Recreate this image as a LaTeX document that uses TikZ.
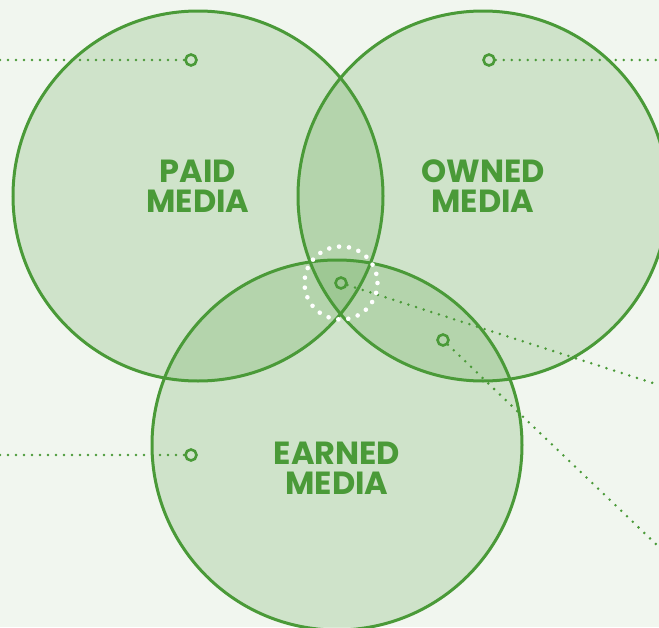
\documentclass[tikz,border=0pt]{standalone}
\usepackage{fontspec}
\setmainfont{Poppins}
\usepackage{tikz}
\usetikzlibrary{positioning}

\definecolor{vgreen}{RGB}{74,154,56}
\definecolor{paper}{RGB}{241,246,239}

\begin{document}
\begin{tikzpicture}[
    x=1pt, y=-1pt,
    venn/.style={circle, fill=vgreen, fill opacity=0.2, minimum size=370pt, inner sep=0pt},
    ring/.style={draw=vgreen, line width=3pt},
    label/.style={text=vgreen, font=\fontsize{32}{30}\selectfont\bfseries, align=center},
    pin/.style={circle, draw=vgreen, line width=2.6pt, minimum size=11pt, inner sep=0pt},
    leader/.style={draw=vgreen, line width=2.8pt, line cap=round, dash pattern=on 0pt off 8pt},
    halo/.style={draw=white, line width=4.6pt, line cap=round, dash pattern=on 0pt off 10pt}
]
% Background
\useasboundingbox[fill=paper] (0,0) rectangle (659,627);
% Circles
\node[venn] (paid) at (198,196) {};
\node[venn] (owned) at (483,196) {};
\node[venn] (earned) at (337,445) {};
\foreach \c in {paid,owned,earned}
    \draw[ring] (\c) circle (185);
% Labels
\node[label] (paidtext) at (198,186) {PAID\\MEDIA};
\node[label] (ownedtext) at (483,186) {OWNED\\MEDIA};
\node[label] (earnedtext) at (337,468) {EARNED\\MEDIA};
% Markers
\node[pin] (paidpin) at (191,60) {};
\node[pin] (ownedpin) at (489,60) {};
\node[pin] (earnedpin) at (191,455) {};
\node[pin] (corepin) at (341,283) {};
\node[pin] (sharedpin) at (443,340) {};
% Loose ends of the leaders
\coordinate (paidend) at (0,60);
\coordinate (ownedend) at (659,60);
\coordinate (earnedend) at (0,455);
\coordinate (coreend) at (659,385);
\coordinate (sharedend) at (659,547);
% Leaders
\draw[leader] (paidend) -- (paidpin);
\draw[leader] (ownedpin) -- (ownedend);
\draw[leader] (earnedend) -- (earnedpin);
\draw[leader] (corepin) -- (coreend);
\draw[leader] (sharedpin) -- (sharedend);
% Dotted halo round the centre
\draw[halo] (corepin) circle (36.5);
\end{tikzpicture}
\end{document}
